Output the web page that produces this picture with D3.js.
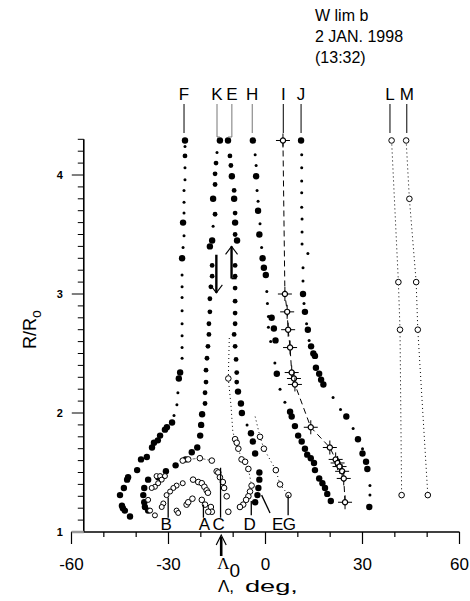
<!DOCTYPE html>
<html><head><meta charset="utf-8">
<script src="https://cdn.jsdelivr.net/npm/d3@7"></script>
<style>
body{margin:0;background:#fff}
svg{display:block}
text{font-family:"Liberation Sans",Arial,Helvetica,sans-serif;fill:#000}
</style>
</head><body>
<svg id="chart" width="470" height="601"></svg>
<script>
// ---- axis ticks ----
const xTickLabels = [-60, -30, 0, 30, 60];
const yTickLabels = [1, 2, 3, 4];
const titleLines = ["W lim b", "2 JAN. 1998", "(13:32)"];

// ---- streamer tracks: [longitude deg, R/R0, brightness class 2/1/0] ----
const trackF = [[-24.9,4.29,2],[-24.9,4.24,0],[-24.9,4.16,1],[-24.9,4.06,0],[-24.9,3.96,0],[-25.2,3.87,0],[-25.2,3.77,0],[-25.2,3.68,0],[-25.5,3.60,2],[-25.2,3.49,0],[-25.5,3.39,0],[-25.8,3.30,2],[-25.8,3.16,0],[-25.8,3.06,0],[-25.8,2.97,0],[-25.8,2.86,0],[-25.8,2.75,0],[-25.8,2.65,0],[-25.8,2.55,0],[-25.8,2.46,0],[-26.4,2.34,2],[-26.8,2.29,2],[-27.1,2.17,0],[-27.4,2.07,0],[-28.3,1.98,0],[-28.9,1.92,2],[-30.5,1.88,2],[-31.1,1.86,2],[-32.6,1.81,2],[-33.3,1.77,2],[-34.5,1.75,2],[-35.1,1.71,2],[-36.7,1.63,2],[-38.5,1.61,2],[-39.7,1.52,2],[-42.5,1.46,2],[-42.8,1.44,2],[-43.8,1.37,2],[-45.0,1.31,2],[-44.4,1.22,2],[-44.1,1.20,2],[-43.5,1.18,2],[-41.9,1.13,2]];
const trackK = [[-14.1,4.29,2],[-15.0,4.19,0],[-15.3,4.10,1],[-15.6,4.01,1],[-15.6,3.92,1],[-16.2,3.80,2],[-15.6,3.67,1],[-16.2,3.57,0],[-16.5,3.45,2],[-17.2,3.40,2],[-16.5,3.24,1],[-16.5,3.15,1],[-16.9,3.06,1],[-17.2,2.96,1],[-17.2,2.85,1],[-17.5,2.75,1],[-17.5,2.66,1],[-17.8,2.56,1],[-18.1,2.46,1],[-18.4,2.36,1],[-18.4,2.26,1],[-18.7,2.17,1],[-18.7,2.08,1],[-19.6,1.99,2],[-19.9,1.90,2],[-20.2,1.81,2],[-21.1,1.71,2],[-22.8,1.67,2],[-24.7,1.61,2],[-27.8,1.56,2],[-30.8,1.51,2],[-33.2,1.46,2],[-36.3,1.44,2],[-37.5,1.37,2],[-37.8,1.31,2],[-37.5,1.25,2],[-37.3,1.21,2],[-36.3,1.18,2]];
const trackE = [[-11.6,4.29,2],[-11.0,4.16,1],[-10.7,4.08,1],[-10.4,3.99,2],[-9.7,3.87,1],[-9.7,3.80,2],[-9.4,3.68,1],[-9.4,3.60,2],[-9.4,3.50,1],[-8.8,3.45,2],[-9.4,3.24,1],[-9.4,3.15,1],[-9.4,3.05,1],[-9.4,2.94,1],[-9.4,2.84,1],[-9.4,2.75,1],[-9.7,2.66,1],[-9.4,2.56,1],[-9.1,2.45,1],[-8.9,2.34,1],[-8.9,2.26,1],[-8.5,2.18,2],[-7.6,2.08,2],[-7.3,2.00,2],[-5.7,1.90,0],[-4.5,1.83,2],[-3.9,1.76,2],[-3.2,1.66,2],[-1.9,1.50,2],[-1.9,1.44,2],[-2.2,1.37,2],[-2.5,1.31,2],[-3.2,1.25,2]];
const trackH = [[-3.9,4.29,2],[-3.2,4.17,0],[-2.9,4.08,0],[-2.9,3.99,2],[-2.6,3.87,0],[-2.3,3.78,0],[-2.3,3.70,2],[-1.7,3.59,0],[-1.9,3.50,2],[-1.2,3.39,0],[-0.9,3.30,2],[-0.5,3.22,2],[0.1,3.16,2],[0.4,3.02,0],[0.6,2.92,0],[0.9,2.81,0],[1.9,2.80,2],[0.9,2.72,0],[2.6,2.71,2],[1.6,2.60,0],[3.1,2.61,2],[2.9,2.42,0],[3.5,2.33,2],[4.5,2.20,0],[6.0,2.09,0],[7.6,2.01,2],[8.1,1.97,2],[9.1,1.89,2],[10.1,1.81,2],[11.2,1.76,2],[12.2,1.70,2],[12.9,1.65,2],[14.0,1.62,2],[15.0,1.58,2],[15.3,1.52,2],[16.6,1.45,2],[17.6,1.41,2],[18.4,1.37,2],[19.1,1.32,2],[20.2,1.26,2]];
const trackJ = [[11.0,4.29,2],[11.2,4.17,0],[11.2,4.06,0],[11.2,3.95,0],[11.2,3.85,0],[11.2,3.73,0],[11.3,3.63,0],[11.3,3.52,0],[11.3,3.42,0],[13.1,3.34,0],[11.6,3.22,0],[11.6,3.11,0],[11.6,3.00,2],[11.9,2.92,0],[12.2,2.85,2],[12.7,2.75,0],[13.1,2.70,2],[13.5,2.61,0],[14.1,2.56,2],[14.8,2.50,2],[15.3,2.48,2],[15.6,2.38,2],[16.6,2.33,2],[17.2,2.28,2],[17.9,2.24,2],[20.9,2.13,0],[23.2,2.03,0],[25.0,1.97,2],[27.1,1.87,0],[28.6,1.78,2],[30.0,1.70,0],[30.0,1.66,2],[31.1,1.59,2],[31.5,1.53,2],[32.3,1.39,0],[32.3,1.31,0],[32.1,1.21,2]];
// crosses joined by a dashed line
const trackI = [[5.4,4.29],[6.0,3.00],[6.7,2.85],[7.0,2.70],[7.6,2.55],[8.1,2.34],[8.8,2.29],[9.1,2.24],[14.0,1.88],[19.9,1.71],[21.7,1.61],[22.3,1.58],[22.9,1.55],[23.7,1.51],[24.2,1.45],[24.6,1.25]];
// open circles joined by dotted lines
const trackL = [[39.0,4.29],[41.1,3.10],[41.6,2.70],[42.1,1.31]];
const trackM = [[43.5,4.29],[44.5,3.80],[46.6,3.10],[47.1,2.70],[50.2,1.31]];
// loops near the limb: [longitude, R/R0, marker (1 open circle, 0 none)]
const loopD = [[-11.2,2.63,0],[-11.5,2.29,1],[-10.7,2.07,0],[-10.1,1.84,0],[-9.4,1.78,1],[-8.9,1.75,1],[-8.4,1.70,1],[-7.4,1.61,1],[-6.3,1.59,1],[-5.3,1.53,1],[-4.3,1.39,1],[-4.8,1.34,1],[-5.3,1.30,1],[-6.0,1.27,1],[-6.9,1.23,1],[-7.9,1.21,1]];
const loopG = [[-3.2,1.97,0],[-1.7,1.80,1],[-0.5,1.70,1],[3.2,1.52,1],[4.5,1.40,1],[7.1,1.31,1]];
const loopC = [[-15.1,1.51],[-14.6,1.50],[-14.1,1.46],[-13.2,1.42],[-12.8,1.37],[-12.0,1.30],[-11.5,1.17]];
const loopArc = [[-25.6,1.60],[-23.9,1.61],[-20.3,1.62],[-16.6,1.60]];
const loopAOuter = [[-22.4,1.44],[-20.8,1.42],[-19.7,1.41],[-18.9,1.38],[-18.2,1.35],[-17.8,1.33]];
const loopAInner = [[-24.4,1.23],[-23.9,1.25],[-22.6,1.28],[-19.7,1.27],[-18.7,1.23],[-16.9,1.21],[-16.6,1.17],[-17.7,1.17]];
const loopBOuter = [[-33.7,1.47],[-32.6,1.47],[-31.1,1.47],[-32.1,1.44],[-33.2,1.41],[-34.2,1.38],[-35.2,1.37],[-36.3,1.27],[-35.7,1.18],[-34.2,1.14]];
const loopBInner = [[-25.6,1.41],[-27.5,1.39],[-28.5,1.37],[-29.5,1.34],[-30.6,1.31],[-31.6,1.24],[-32.1,1.21],[-27.5,1.18],[-27.0,1.16]];

// ---- labels and pointers ----
const topLabels = [["F",-25.2],["K",-15.0],["E",-10.4],["H",-4.1],["I",5.5],["J",11.0],["L",38.5],["M",43.7]];
const bottomLabels = [["B",-30.7],["A",-18.9],["C",-14.5],["D",-4.9],["E",3.8],["G",7.4]];
// leader lines from loop feet down to the letters: [lon1, R1, lon2, R2]
const leaders = [[-30.1,1.29,-30.1,1.12],[-19.2,1.23,-19.2,1.12],[-13.9,1.54,-13.9,1.12],[-4.4,1.26,-4.4,1.14],[-1.2,1.31,1.4,1.16],[7.0,1.31,7.0,1.14]];
// motion arrows: [lon, R from, R to]
const motionArrows = [[-15.2,3.33,3.01],[-10.5,3.13,3.40]];
const lambda0 = -13.7;

const svg = d3.select("#chart");
const x = d3.scaleLinear().domain([-60, 60]).range([71.5, 459.5]);
const y = d3.scaleLinear().domain([1, 4.3]).range([532, 139.3]);
const yAxisAt = x(-56.2);

// ---- axes ----
const gx = svg.append("g").attr("transform", `translate(0,${y(1)})`);
gx.append("line").attr("x1", x(-60)).attr("x2", x(60)).attr("stroke", "#000").attr("stroke-width", 1.6);
gx.selectAll("line.t").data(d3.range(-60, 61, 10)).join("line")
  .attr("x1", d => x(d)).attr("x2", d => x(d)).attr("y1", 0)
  .attr("y2", d => d % 30 === 0 ? 12 : 5).attr("stroke", "#000").attr("stroke-width", 1.2);
gx.selectAll("text").data(xTickLabels).join("text")
  .attr("x", d => x(d)).attr("y", 38).attr("text-anchor", "middle")
  .attr("font-size", 17).text(d => d);

const gy = svg.append("g").attr("transform", `translate(${yAxisAt},0)`);
gy.append("line").attr("y1", y(1)).attr("y2", y(4.3)).attr("stroke", "#000").attr("stroke-width", 1.6);
gy.selectAll("line.t").data(d3.range(10, 44).map(v => v / 10)).join("line")
  .attr("y1", d => y(d)).attr("y2", d => y(d)).attr("x1", 0)
  .attr("x2", d => Math.abs(d - Math.round(d)) < 1e-6 ? -12 : -6)
  .attr("stroke", d => d === 1 ? "#999" : "#000").attr("stroke-width", d => d === 1 ? 2.5 : 1);
gy.selectAll("text").data(yTickLabels).join("text")
  .attr("x", -24).attr("y", d => y(d) + 4).attr("text-anchor", "middle")
  .attr("font-size", 11).attr("font-weight", "bold").text(d => d);

// axis titles
const yl = svg.append("text").attr("transform", `translate(36,${y(2.7)}) rotate(-90)`)
  .attr("text-anchor", "middle").attr("font-size", 18);
yl.append("tspan").text("R/R");
yl.append("tspan").attr("dy", 5).attr("font-size", 14).text("o");

svg.append("text").attr("x", 218).attr("y", 592).attr("font-size", 17)
  .attr("font-family", "Liberation Serif, serif").text("Λ,");
svg.append("text").attr("transform", "translate(245,592) scale(1.6,1)").attr("font-size", 17).text("deg,");

// Λ0 marker arrow
svg.append("line").attr("x1", x(lambda0)).attr("x2", x(lambda0)).attr("y1", 556).attr("y2", 537)
  .attr("stroke", "#000").attr("stroke-width", 2.6);
svg.append("path").attr("d", `M${x(lambda0) - 5},${545} L${x(lambda0)},${535} L${x(lambda0) + 5},${545}`)
  .attr("fill", "none").attr("stroke", "#000").attr("stroke-width", 1.2);
const l0 = svg.append("text").attr("x", x(lambda0) - 4).attr("y", 569).attr("font-size", 17);
l0.append("tspan").attr("font-family", "Liberation Serif, serif").text("Λ");
l0.append("tspan").attr("dy", 8).attr("font-size", 19).text("0");

// title
svg.append("g").selectAll("text").data(titleLines).join("text")
  .attr("x", 315).attr("y", (d, i) => 21 + i * 21).attr("font-size", 16).text(d => d);

// ---- plot helpers ----
const line = d3.line().x(d => x(d[0])).y(d => y(d[1]));
const radius = d3.scaleOrdinal().domain([0, 1, 2]).range([1.5, 2.4, 3.2]);

function filled(track) {
  svg.append("g").selectAll("circle").data(track).join("circle")
    .attr("cx", d => x(d[0])).attr("cy", d => y(d[1])).attr("r", d => radius(d[2])).attr("fill", "#000");
}
function open(track, r = 2.8) {
  svg.append("g").selectAll("circle").data(track.filter(d => d.length < 3 || d[2] === 1)).join("circle")
    .attr("cx", d => x(d[0])).attr("cy", d => y(d[1])).attr("r", r)
    .attr("fill", "#fff").attr("stroke", "#000").attr("stroke-width", 1);
}
function dotted(track) {
  svg.append("path").attr("d", line(track)).attr("fill", "none").attr("stroke", "#000")
    .attr("stroke-width", 1).attr("stroke-dasharray", "1,3");
}

[trackF, trackK, trackE, trackH, trackJ].forEach(t => filled(t));

// I: dashed line with crosses
svg.append("path").attr("d", line(trackI)).attr("fill", "none").attr("stroke", "#000")
  .attr("stroke-width", 1).attr("stroke-dasharray", "6,4");
const gi = svg.append("g").selectAll("g").data(trackI).join("g")
  .attr("transform", d => `translate(${x(d[0])},${y(d[1])})`);
gi.append("line").attr("x1", -7).attr("x2", 7).attr("stroke", "#000").attr("stroke-width", 1);
gi.append("line").attr("y1", -7).attr("y2", 7).attr("stroke", "#000").attr("stroke-width", 1);
gi.append("circle").attr("r", 2.6).attr("fill", "#fff").attr("stroke", "#000").attr("stroke-width", 1.2);

[trackL, trackM, loopD, loopG].forEach(t => dotted(t));
// faint connectors across the upper loop chains
[loopArc, loopBOuter.slice(0, 3)].forEach(t => svg.append("path").attr("d", line(t))
  .attr("fill", "none").attr("stroke", "#666").attr("stroke-width", 1).attr("stroke-dasharray", "3,2"));
[trackL, trackM, loopD, loopG, loopC, loopArc, loopAOuter, loopAInner].forEach(t => open(t));
[loopBOuter, loopBInner].forEach(t => open(t, 2.5));

// motion arrows between K and E
motionArrows.forEach(([lon, r0, r1]) => {
  const px = x(lon), p0 = y(r0), p1 = y(r1), dir = p1 > p0 ? 1 : -1;
  svg.append("line").attr("x1", px).attr("x2", px).attr("y1", p0).attr("y2", p1)
    .attr("stroke", "#000").attr("stroke-width", 2.4);
  svg.append("path").attr("d", `M${px - 6},${p1 - dir * 8} L${px},${p1} L${px + 6},${p1 - dir * 8}`)
    .attr("fill", "none").attr("stroke", "#000").attr("stroke-width", 1.1);
  if (dir < 0) svg.append("line").attr("x1", px).attr("x2", px + 5).attr("y1", p0).attr("y2", p0)
    .attr("stroke", "#000").attr("stroke-width", 1.6);
});

// ---- letter labels ----
const gt = svg.append("g");
gt.selectAll("text").data(topLabels).join("text")
  .attr("x", d => x(d[1])).attr("y", 100).attr("text-anchor", "middle").attr("font-size", 17).text(d => d[0]);
gt.selectAll("line").data(topLabels.filter(d => d[0] !== "K" && d[0] !== "E")).join("line")
  .attr("x1", d => x(d[1])).attr("x2", d => x(d[1])).attr("y1", 104).attr("y2", 133)
  .attr("stroke", d => d[0] === "H" ? "#777" : "#000").attr("stroke-width", 1);
// K and E pointers bend towards their first points
[["K", trackK[0]], ["E", trackE[0]]].forEach(([name, p]) => {
  const lx = x(topLabels.find(d => d[0] === name)[1]);
  gt.append("path").attr("d", `M${lx},104 L${lx},137 L${x(p[0])},137`)
    .attr("fill", "none").attr("stroke", "#777").attr("stroke-width", 1);
});

const gb = svg.append("g");
gb.selectAll("text").data(bottomLabels).join("text")
  .attr("x", d => x(d[1])).attr("y", 530).attr("text-anchor", "middle").attr("font-size", 17).text(d => d[0]);
gb.selectAll("line").data(leaders).join("line")
  .attr("x1", d => x(d[0])).attr("y1", d => y(d[1])).attr("x2", d => x(d[2])).attr("y2", d => y(d[3]))
  .attr("stroke", "#000").attr("stroke-width", 1.3);
</script>
</body></html>
